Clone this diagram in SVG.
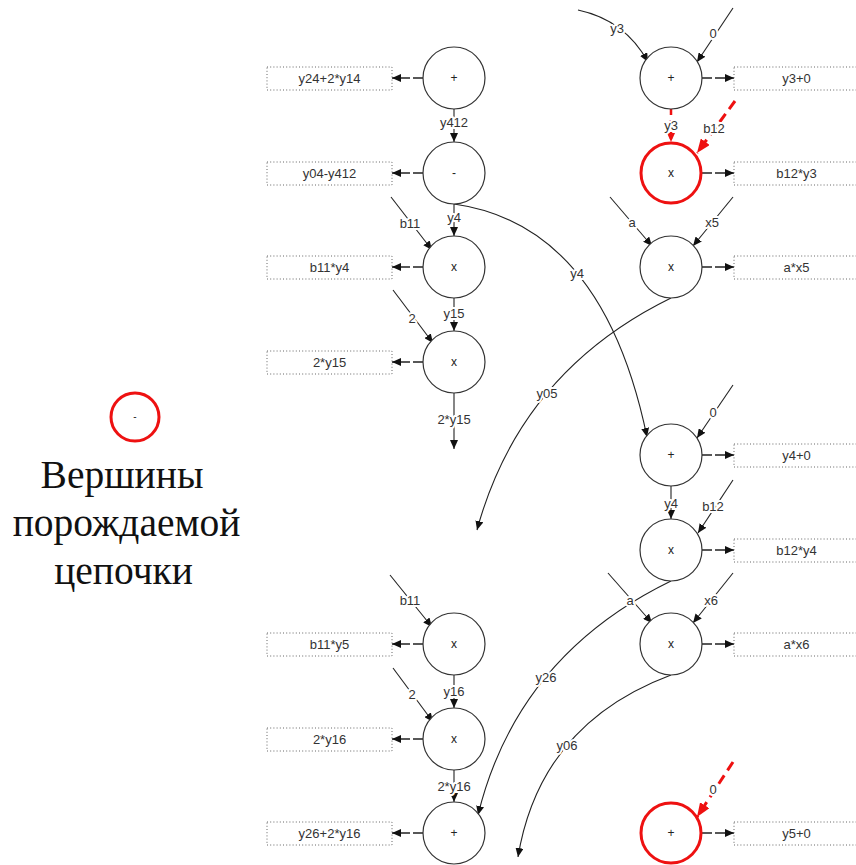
<svg xmlns="http://www.w3.org/2000/svg" width="856" height="865" viewBox="0 0 856 865">
  <style>
    .op { fill: #ffffff; stroke: #333333; stroke-width: 1.2; }
    .hot { fill: #ffffff; stroke: #ee1111; stroke-width: 3; }
    .ol { font-family: "Liberation Sans", Arial, sans-serif; font-size: 12px; fill: #222222; text-anchor: middle; dominant-baseline: central; }
    .box { fill: #ffffff; stroke: #666666; stroke-width: 1; stroke-dasharray: 1 2.2; }
    .bt { font-family: "Liberation Sans", Arial, sans-serif; font-size: 13px; fill: #333333; text-anchor: middle; dominant-baseline: central; }
    .e { fill: none; stroke: #222222; stroke-width: 1.1; }
    .out { fill: none; stroke: #222222; stroke-width: 1.3; stroke-dasharray: 10 3; }
    .red { fill: none; stroke: #ee1111; stroke-width: 3; stroke-dasharray: 10 6; }
    .red2 { fill: none; stroke: #ee1111; stroke-width: 2.5; stroke-dasharray: 7 5; }
    .el { font-family: "Liberation Sans", Arial, sans-serif; font-size: 13px; fill: #333333; text-anchor: middle; dominant-baseline: central; stroke: #ffffff; stroke-width: 4; paint-order: stroke; stroke-linejoin: round; }
    .legend { font-family: "Liberation Serif", "Times New Roman", serif; font-size: 39.5px; fill: #111111; text-anchor: middle; }
  </style>
  <defs>
    <marker id="ah" viewBox="0 0 9 8" markerWidth="9" markerHeight="8" refX="9" refY="4" orient="auto" markerUnits="userSpaceOnUse">
      <path d="M0,0 L9,4 L0,8 z" fill="#111111"/>
    </marker>
    <marker id="ahr" viewBox="0 0 14 11" markerWidth="14" markerHeight="11" refX="14" refY="5.5" orient="auto" markerUnits="userSpaceOnUse">
      <path d="M0,0 L14,5.5 L0,11 z" fill="#ee1111"/>
    </marker>
    <marker id="ahrs" viewBox="0 0 9 8" markerWidth="9" markerHeight="8" refX="9" refY="4" orient="auto" markerUnits="userSpaceOnUse">
      <path d="M0,0 L9,4 L0,8 z" fill="#ee1111"/>
    </marker>
  </defs>

  <!-- connectors -->
  <g id="connectors">
    <!-- outputs of the left column -->
    <line class="out" x1="423" y1="78" x2="392" y2="78" marker-end="url(#ah)"/>
    <line class="out" x1="423" y1="173" x2="392" y2="173" marker-end="url(#ah)"/>
    <line class="out" x1="423" y1="267" x2="392" y2="267" marker-end="url(#ah)"/>
    <line class="out" x1="423" y1="362" x2="392" y2="362" marker-end="url(#ah)"/>
    <line class="out" x1="423" y1="644" x2="392" y2="644" marker-end="url(#ah)"/>
    <line class="out" x1="423" y1="739" x2="392" y2="739" marker-end="url(#ah)"/>
    <line class="out" x1="423" y1="833" x2="392" y2="833" marker-end="url(#ah)"/>
    <!-- outputs of the right column -->
    <line class="out" x1="702" y1="78" x2="734" y2="78" marker-end="url(#ah)"/>
    <line class="out" x1="702" y1="173" x2="734" y2="173" marker-end="url(#ah)"/>
    <line class="out" x1="702" y1="267" x2="734" y2="267" marker-end="url(#ah)"/>
    <line class="out" x1="702" y1="455" x2="734" y2="455" marker-end="url(#ah)"/>
    <line class="out" x1="702" y1="550" x2="734" y2="550" marker-end="url(#ah)"/>
    <line class="out" x1="702" y1="644" x2="734" y2="644" marker-end="url(#ah)"/>
    <line class="out" x1="702" y1="833" x2="734" y2="833" marker-end="url(#ah)"/>

    <!-- left column chain -->
    <line class="e" x1="454" y1="103" x2="454" y2="142" marker-end="url(#ah)"/>
    <text class="el" x="454" y="122">y412</text>
    <line class="e" x1="454" y1="198" x2="454" y2="236" marker-end="url(#ah)"/>
    <text class="el" x="454" y="217">y4</text>
    <line class="e" x1="391" y1="197" x2="432" y2="250" marker-end="url(#ah)"/>
    <text class="el" x="410" y="223">b11</text>
    <line class="e" x1="454" y1="292" x2="454" y2="331" marker-end="url(#ah)"/>
    <text class="el" x="454" y="313">y15</text>
    <line class="e" x1="393" y1="290" x2="433" y2="343" marker-end="url(#ah)"/>
    <text class="el" x="412" y="318">2</text>
    <line class="e" x1="454" y1="393" x2="454" y2="449" marker-end="url(#ah)"/>
    <text class="el" x="454" y="419">2*y15</text>

    <line class="e" x1="390" y1="575" x2="432" y2="627" marker-end="url(#ah)"/>
    <text class="el" x="410" y="600">b11</text>
    <line class="e" x1="454" y1="669" x2="454" y2="708" marker-end="url(#ah)"/>
    <text class="el" x="454" y="691">y16</text>
    <line class="e" x1="393" y1="668" x2="433" y2="722" marker-end="url(#ah)"/>
    <text class="el" x="412" y="694">2</text>
    <line class="e" x1="454" y1="764" x2="454" y2="802" marker-end="url(#ah)"/>
    <text class="el" x="454" y="786">2*y16</text>

    <!-- right column inputs -->
    <path class="e" d="M578,10 Q625,20 648,62" marker-end="url(#ah)"/>
    <text class="el" x="617" y="28">y3</text>
    <line class="e" x1="733" y1="8" x2="697" y2="62" marker-end="url(#ah)"/>
    <text class="el" x="713" y="33">0</text>

    <line class="red2" x1="671" y1="108" x2="671" y2="142" marker-end="url(#ahrs)"/>
    <text class="el" x="671" y="125">y3</text>
    <line class="red" x1="735" y1="101" x2="697" y2="153" marker-end="url(#ahr)"/>
    <text class="el" x="714" y="128">b12</text>

    <line class="e" x1="610" y1="197" x2="652" y2="246" marker-end="url(#ah)"/>
    <text class="el" x="632" y="222">a</text>
    <line class="e" x1="733" y1="197" x2="693" y2="246" marker-end="url(#ah)"/>
    <text class="el" x="712" y="222">x5</text>

    <line class="e" x1="733" y1="385" x2="697" y2="438" marker-end="url(#ah)"/>
    <text class="el" x="713" y="412">0</text>
    <line class="e" x1="671" y1="481" x2="671" y2="519" marker-end="url(#ah)"/>
    <text class="el" x="671" y="503">y4</text>
    <line class="e" x1="733" y1="480" x2="698" y2="533" marker-end="url(#ah)"/>
    <text class="el" x="713" y="506">b12</text>

    <line class="e" x1="608" y1="573" x2="652" y2="623" marker-end="url(#ah)"/>
    <line class="e" x1="733" y1="573" x2="693" y2="623" marker-end="url(#ah)"/>
    <text class="el" x="711" y="600">x6</text>

    <line class="red" x1="733" y1="762" x2="697" y2="817" marker-end="url(#ahr)"/>
    <text class="el" x="713" y="789">0</text>

    <!-- long cross links -->
    <path class="e" d="M454,204 Q603,225 647,437" marker-end="url(#ah)"/>
    <text class="el" x="577" y="273">y4</text>
    <path class="e" d="M671,298 Q520,372 477,530" marker-end="url(#ah)"/>
    <text class="el" x="547" y="393">y05</text>
    <path class="e" d="M671,581 Q517,656 478,815" marker-end="url(#ah)"/>
    <text class="el" x="546" y="677">y26</text>
    <text class="el" x="630" y="600">a</text>
    <path class="e" d="M671,675 Q540,724 518,857" marker-end="url(#ah)"/>
    <text class="el" x="567" y="745">y06</text>
  </g>

  <!-- left column operations -->
  <g id="n-add-y24"><circle class="op" cx="454" cy="78" r="31"/><text class="ol" x="454" y="78">+</text></g>
  <g id="n-sub-y04"><circle class="op" cx="454" cy="173" r="31"/><text class="ol" x="454" y="173">-</text></g>
  <g id="n-mul-b11-y4"><circle class="op" cx="454" cy="267" r="31"/><text class="ol" x="454" y="267">x</text></g>
  <g id="n-mul-2-y15"><circle class="op" cx="454" cy="362" r="31"/><text class="ol" x="454" y="362">x</text></g>
  <g id="n-mul-b11-y5"><circle class="op" cx="454" cy="644" r="31"/><text class="ol" x="454" y="644">x</text></g>
  <g id="n-mul-2-y16"><circle class="op" cx="454" cy="739" r="31"/><text class="ol" x="454" y="739">x</text></g>
  <g id="n-add-y26"><circle class="op" cx="454" cy="833" r="31"/><text class="ol" x="454" y="833">+</text></g>

  <!-- right column operations -->
  <g id="n-add-y3"><circle class="op" cx="671" cy="78" r="31"/><text class="ol" x="671" y="78">+</text></g>
  <g id="n-mul-b12-y3"><circle class="hot" cx="671" cy="173" r="30"/><text class="ol" x="671" y="173">x</text></g>
  <g id="n-mul-a-x5"><circle class="op" cx="671" cy="267" r="31"/><text class="ol" x="671" y="267">x</text></g>
  <g id="n-add-y4"><circle class="op" cx="671" cy="455" r="31"/><text class="ol" x="671" y="455">+</text></g>
  <g id="n-mul-b12-y4"><circle class="op" cx="671" cy="550" r="31"/><text class="ol" x="671" y="550">x</text></g>
  <g id="n-mul-a-x6"><circle class="op" cx="671" cy="644" r="31"/><text class="ol" x="671" y="644">x</text></g>
  <g id="n-add-y5"><circle class="hot" cx="671" cy="833" r="30"/><text class="ol" x="671" y="833">+</text></g>

  <!-- left result boxes -->
  <g id="b-y24"><rect class="box" x="267" y="67" width="125" height="23"/><text class="bt" x="329.5" y="78.5">y24+2*y14</text></g>
  <g id="b-y04"><rect class="box" x="267" y="162" width="125" height="23"/><text class="bt" x="329.5" y="173.5">y04-y412</text></g>
  <g id="b-b11y4"><rect class="box" x="267" y="256" width="125" height="23"/><text class="bt" x="329.5" y="267.5">b11*y4</text></g>
  <g id="b-2y15"><rect class="box" x="267" y="351" width="125" height="23"/><text class="bt" x="329.5" y="362.5">2*y15</text></g>
  <g id="b-b11y5"><rect class="box" x="267" y="633" width="125" height="23"/><text class="bt" x="329.5" y="644.5">b11*y5</text></g>
  <g id="b-2y16"><rect class="box" x="267" y="728" width="125" height="23"/><text class="bt" x="329.5" y="739.5">2*y16</text></g>
  <g id="b-y26"><rect class="box" x="267" y="822" width="125" height="23"/><text class="bt" x="329.5" y="833.5">y26+2*y16</text></g>

  <!-- right result boxes -->
  <g id="b-y3"><rect class="box" x="734" y="67" width="125" height="23"/><text class="bt" x="796.5" y="78.5">y3+0</text></g>
  <g id="b-b12y3"><rect class="box" x="734" y="162" width="125" height="23"/><text class="bt" x="796.5" y="173.5">b12*y3</text></g>
  <g id="b-ax5"><rect class="box" x="734" y="256" width="125" height="23"/><text class="bt" x="796.5" y="267.5">a*x5</text></g>
  <g id="b-y4"><rect class="box" x="734" y="444" width="125" height="23"/><text class="bt" x="796.5" y="455.5">y4+0</text></g>
  <g id="b-b12y4"><rect class="box" x="734" y="539" width="125" height="23"/><text class="bt" x="796.5" y="550.5">b12*y4</text></g>
  <g id="b-ax6"><rect class="box" x="734" y="633" width="125" height="23"/><text class="bt" x="796.5" y="644.5">a*x6</text></g>
  <g id="b-y5"><rect class="box" x="734" y="822" width="125" height="23"/><text class="bt" x="796.5" y="833.5">y5+0</text></g>

  <!-- legend -->
  <g id="legend">
    <circle class="hot" cx="135" cy="417" r="24"/>
    <text class="ol" x="135" y="416" style="font-size:10px">-</text>
    <text class="legend" x="122" y="488">Вершины</text>
    <text class="legend" x="126.5" y="536">порождаемой</text>
    <text class="legend" x="123.5" y="584">цепочки</text>
  </g>
</svg>
